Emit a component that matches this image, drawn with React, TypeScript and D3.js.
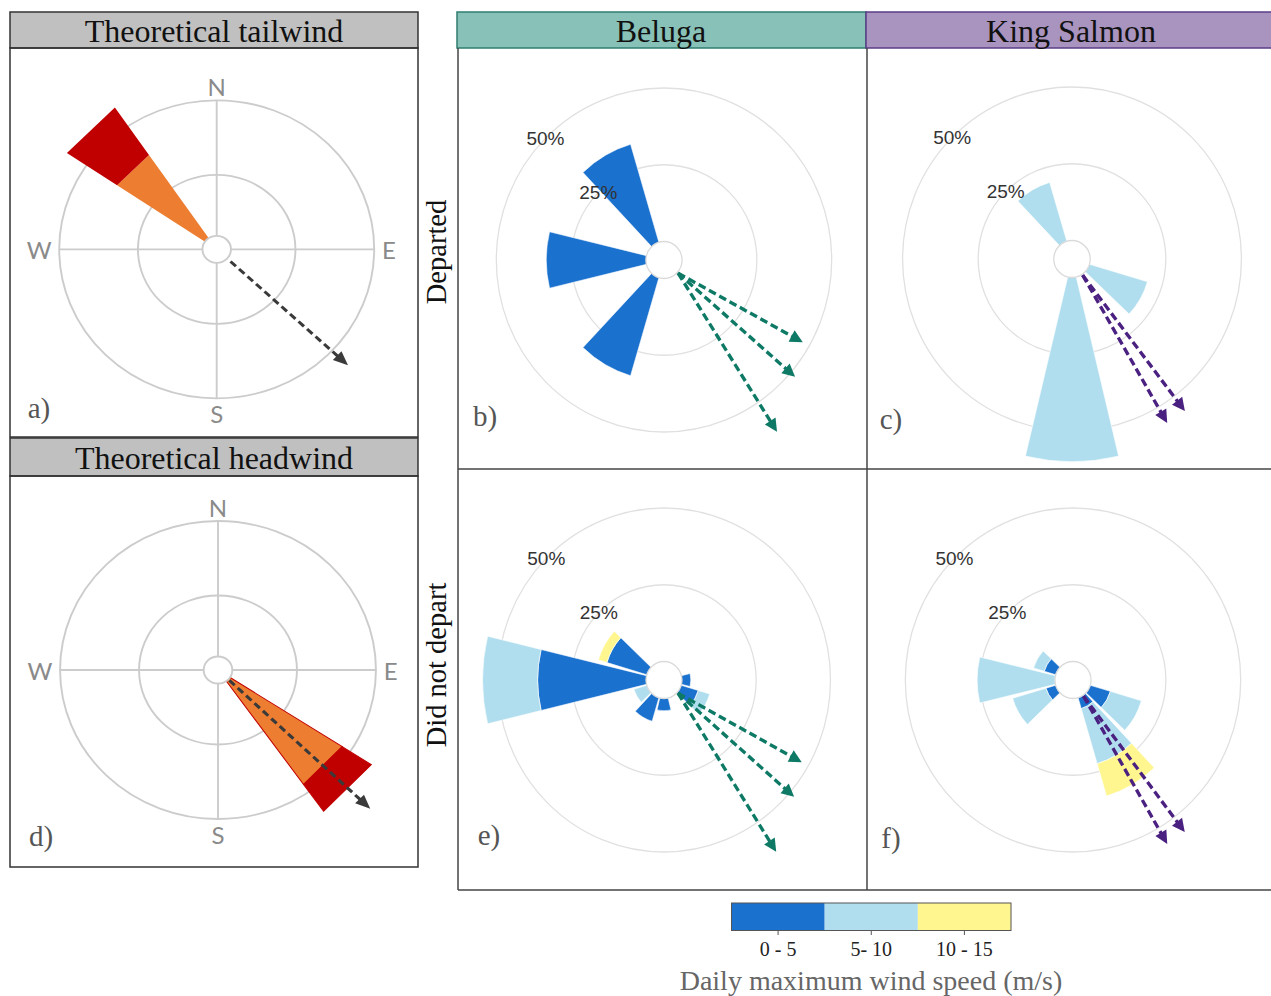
import React from 'react';
import * as d3 from 'd3';

// ---------- data ----------
const speedLabels = ['0 - 5', '5- 10', '10 - 15'];
const speedColors = ['#1A71CE', '#B0DEEE', '#FFF68F'];
const radialTicks = [25, 50];
const compassLabels = ['N', 'E', 'S', 'W'];
const compassBearings = [0, 90, 180, 270];

// Beluga – departed (bearing, % per speed class)
const belDepDir = [330, 270, 210];
const belDep05 = [33.3, 33.3, 33.3];
const belDep510 = [0, 0, 0];
const belDep1015 = [0, 0, 0];

// King Salmon – departed
const ksDepDir = [330, 120, 180];
const ksDep05 = [0, 0, 0];
const ksDep510 = [20, 20, 60];
const ksDep1015 = [0, 0, 0];

// Beluga – did not depart
const belNoDir = [270, 300, 90, 120, 180, 210, 240];
const belNo05 = [36.5, 14, 3, 6, 4, 8, 0];
const belNo510 = [18.5, 0, 0, 4, 0, 0, 4.5];
const belNo1015 = [0, 3, 0, 0, 0, 0, 0];

// King Salmon – did not depart
const ksNoDir = [270, 300, 240, 120, 150];
const ksNo05 = [0, 4, 3.4, 7, 3.7];
const ksNo510 = [26, 3.7, 11.6, 10.8, 18.7];
const ksNo1015 = [0, 0, 0, 0, 11];

// departure headings (bearing, length in % units)
const belHeadings = [120, 131, 146];
const belHeadingLen = [47.5, 52, 61.5];
const ksHeadings = [149.5, 143];
const ksHeadingLen = [56, 56];

// theoretical panels (ring units: 1 = inner ring, 2 = outer ring)
const tailDir = 315;
const tailSegs = [1.53, 2.3];
const tailArrow = [133, 0.24, 2.28];
const headDir = 134;
const headSegs = [1.88, 2.32];
const headArrow = [134, 0.2, 2.68];
const theoColors = ['#ED7D31', '#C00000'];

const rad = (deg: number) => (deg * Math.PI) / 180;
const polar = (bearing: number, r: number): [number, number] => [
  r * Math.sin(rad(bearing)),
  -r * Math.cos(rad(bearing)),
];

function Arrow({ b0, r0, b1, r1, color, width = 3.4, dash = '8 4', head = 13, hw = 6.5 }: any) {
  const [x0, y0] = polar(b0, r0);
  const [x1, y1] = polar(b1, r1);
  const dx = x1 - x0, dy = y1 - y0;
  const len = Math.hypot(dx, dy);
  const ux = dx / len, uy = dy / len;
  const bx = x1 - ux * head, by = y1 - uy * head;
  const px = -uy, py = ux;
  return (
    <g>
      <line x1={x0} y1={y0} x2={bx + ux * 1} y2={by + uy * 1} stroke={color} strokeWidth={width} strokeDasharray={dash} />
      <polygon points={`${x1},${y1} ${bx + px * hw},${by + py * hw} ${bx - px * hw},${by - py * hw}`} fill={color} />
    </g>
  );
}

const rScale = d3.scaleLinear().domain([0, 50]).range([18.5, 172]);
const arcGen = d3.arc<any>();
const BIN_HALF = 13.5;

function Rose({ cx, cy, sx, dirs, s05, s510, s1015, headings, headingLen, arrowColor, label }: any) {
  const segs: any[] = [];
  dirs.forEach((dir: number, i: number) => {
    const vals = [s05[i], s510[i], s1015[i]];
    let cum = 0;
    vals.forEach((v, k) => {
      if (v > 0) {
        segs.push({
          d: arcGen({
            innerRadius: rScale(cum),
            outerRadius: rScale(cum + v),
            startAngle: rad(dir - BIN_HALF),
            endAngle: rad(dir + BIN_HALF),
          }),
          color: speedColors[k],
        });
      }
      cum += v;
    });
  });
  const meanB = d3.mean(headings as number[]) as number;
  return (
    <g>
      <g transform={`translate(${cx},${cy}) scale(${sx},1)`}>
        {radialTicks.map((t) => (
          <circle key={t} r={rScale(t)} fill="none" stroke="#e0e0e0" strokeWidth={1.3} />
        ))}
        {segs.map((s, i) => (
          <path key={i} d={s.d} fill={s.color} stroke="#ffffff" strokeWidth={0.6} />
        ))}
        <circle r={rScale(0)} fill="#ffffff" stroke="#dadada" strokeWidth={1.3} />
        {headings.map((h: number, i: number) => (
          <Arrow key={i} b0={meanB} r0={rScale(0) + 1} b1={h} r1={rScale(headingLen[i])} color={arrowColor} />
        ))}
      </g>
      {radialTicks.map((t) => {
        const [x, y] = polar(315, rScale(t));
        return (
          <text key={t} x={cx + x * sx} y={cy + y} textAnchor="middle" dominantBaseline="central"
            fontFamily="'Liberation Sans', Arial, sans-serif" fontSize={19} fill="#333">
            {t}%
          </text>
        );
      })}
      <text x={label.x} y={label.y} textAnchor="middle" dominantBaseline="central"
        fontFamily="'Liberation Serif', 'Times New Roman', serif" fontSize={29} fill="#555">
        {label.t}
      </text>
    </g>
  );
}

const ringScale = d3.scaleLinear().domain([0, 2]).range([0, 149]);

function Theo({ cx, cy, sx, dir, segs, arrow, outline, label }: any) {
  const half = 10.8;
  const outer = ringScale(2);
  const labelR = [163, 163, 164, 168];
  const lineGen = d3.line();
  const quad = (r0: number, r1: number) => {
    const pts: [number, number][] = r0 === 0
      ? [[0, 0], polar(dir - half, r1), polar(dir + half, r1)]
      : [polar(dir - half, r0), polar(dir - half, r1), polar(dir + half, r1), polar(dir + half, r0)];
    return lineGen(pts) + 'Z';
  };
  return (
    <g>
      <g transform={`translate(${cx},${cy}) scale(${sx},1)`}>
        {[1, 2].map((t) => (
          <circle key={t} r={ringScale(t)} fill="none" stroke="#cccccc" strokeWidth={1.8} />
        ))}
        <line x1={-outer} x2={outer} y1={0} y2={0} stroke="#cccccc" strokeWidth={1.8} />
        <line y1={-outer} y2={outer} x1={0} x2={0} stroke="#cccccc" strokeWidth={1.8} />
        {segs.map((v: number, k: number) => (
          <path key={k}
            d={quad(k === 0 ? 0 : ringScale(segs[k - 1]), ringScale(v))}
            fill={theoColors[k]} stroke={outline ? '#C00000' : 'none'} strokeWidth={outline ? 1 : 0} strokeLinejoin="miter" />
        ))}
        <circle r={13.5} fill="#ffffff" stroke="#cccccc" strokeWidth={1.8} />
        <Arrow b0={arrow[0]} r0={ringScale(arrow[1])} b1={arrow[0]} r1={ringScale(arrow[2])} color="#3a3a3a" width={3} dash="7 4" head={14} hw={6} />
      </g>
      {compassLabels.map((c, i) => {
        const [x, y] = polar(compassBearings[i], labelR[i]);
        return (
          <text key={c} x={cx + x * sx} y={cy + y} textAnchor="middle" dominantBaseline="central"
            fontFamily="Lato, 'Open Sans', sans-serif" fontSize={24} fill="#8a8a8a">
            {c}
          </text>
        );
      })}
      <text x={label.x} y={label.y} textAnchor="middle" dominantBaseline="central"
        fontFamily="'Liberation Serif', 'Times New Roman', serif" fontSize={29} fill="#555">
        {label.t}
      </text>
    </g>
  );
}

const serif = "'Liberation Serif', 'Times New Roman', serif";

export default function App() {
  const legendX = d3.scaleBand<string>().domain(speedLabels).range([731.5, 1011]);
  return (
    <svg width={1271} height={996} style={{ position: 'absolute', left: 0, top: 0, background: '#fff' }}>
      {/* left theoretical panels */}
      <rect x={10} y={12} width={408} height={36} fill="#C0C0C0" stroke="#333" strokeWidth={1.5} />
      <rect x={10} y={48} width={408} height={389} fill="none" stroke="#333" strokeWidth={1.5} />
      <text x={214} y={42} textAnchor="middle" fontFamily={serif} fontSize={32} fill="#111">Theoretical tailwind</text>
      <rect x={10} y={438} width={408} height={38} fill="#C0C0C0" stroke="#333" strokeWidth={1.5} />
      <rect x={10} y={476} width={408} height={391} fill="none" stroke="#333" strokeWidth={1.5} />
      <text x={214} y={469} textAnchor="middle" fontFamily={serif} fontSize={32} fill="#111">Theoretical headwind</text>

      <Theo cx={216.7} cy={249.3} sx={1.057} dir={tailDir} segs={tailSegs} arrow={tailArrow} outline={false} label={{ t: 'a)', x: 39, y: 408 }} />
      <Theo cx={218} cy={670} sx={1.06} dir={headDir} segs={headSegs} arrow={headArrow} outline={true} label={{ t: 'd)', x: 41, y: 836 }} />

      {/* right grid headers */}
      <rect x={457} y={12} width={409} height={36} fill="#88C1B7" stroke="#2F7E70" strokeWidth={1.5} />
      <text x={661} y={42} textAnchor="middle" fontFamily={serif} fontSize={32} fill="#111">Beluga</text>
      <rect x={866} y={12} width={410} height={36} fill="#A994BF" stroke="#5C3C88" strokeWidth={1.5} />
      <text x={1071} y={42} textAnchor="middle" fontFamily={serif} fontSize={32} fill="#111">King Salmon</text>

      {/* grid lines */}
      <line x1={458} x2={458} y1={48} y2={890} stroke="#444" strokeWidth={1.5} />
      <line x1={867} x2={867} y1={48} y2={890} stroke="#444" strokeWidth={1.5} />
      <line x1={458} x2={1271} y1={469} y2={469} stroke="#444" strokeWidth={1.5} />
      <line x1={458} x2={1271} y1={890} y2={890} stroke="#444" strokeWidth={1.5} />

      <text transform="translate(446,252) rotate(-90)" textAnchor="middle" fontFamily={serif} fontSize={28.5} fill="#111">Departed</text>
      <text transform="translate(446,665) rotate(-90)" textAnchor="middle" fontFamily={serif} fontSize={28.5} fill="#111">Did not depart</text>

      <Rose cx={664} cy={260} sx={0.975} dirs={belDepDir} s05={belDep05} s510={belDep510} s1015={belDep1015}
        headings={belHeadings} headingLen={belHeadingLen} arrowColor="#0E7A66" label={{ t: 'b)', x: 485, y: 416 }} />
      <Rose cx={1072} cy={259} sx={0.985} dirs={ksDepDir} s05={ksDep05} s510={ksDep510} s1015={ksDep1015}
        headings={ksHeadings} headingLen={ksHeadingLen} arrowColor="#4A2080" label={{ t: 'c)', x: 891, y: 419 }} />
      <Rose cx={664} cy={680} sx={0.968} dirs={belNoDir} s05={belNo05} s510={belNo510} s1015={belNo1015}
        headings={belHeadings} headingLen={belHeadingLen} arrowColor="#0E7A66" label={{ t: 'e)', x: 489, y: 835 }} />
      <Rose cx={1073} cy={680} sx={0.975} dirs={ksNoDir} s05={ksNo05} s510={ksNo510} s1015={ksNo1015}
        headings={ksHeadings} headingLen={ksHeadingLen} arrowColor="#4A2080" label={{ t: 'f)', x: 891, y: 838 }} />

      {/* legend */}
      {speedLabels.map((s, i) => (
        <g key={s}>
          <rect x={legendX(s)} y={903} width={legendX.bandwidth()} height={27.5} fill={speedColors[i]} />
          <line x1={(legendX(s) as number) + legendX.bandwidth() / 2} x2={(legendX(s) as number) + legendX.bandwidth() / 2} y1={930.5} y2={935} stroke="#555" strokeWidth={1} />
          <text x={(legendX(s) as number) + legendX.bandwidth() / 2} y={956} textAnchor="middle" fontFamily={serif} fontSize={20} fill="#222">{s}</text>
        </g>
      ))}
      <rect x={731.5} y={903} width={279.5} height={27.5} fill="none" stroke="#555" strokeWidth={1} />
      <text x={871} y={990} textAnchor="middle" fontFamily={serif} fontSize={28} fill="#666">Daily maximum wind speed (m/s)</text>
    </svg>
  );
}
